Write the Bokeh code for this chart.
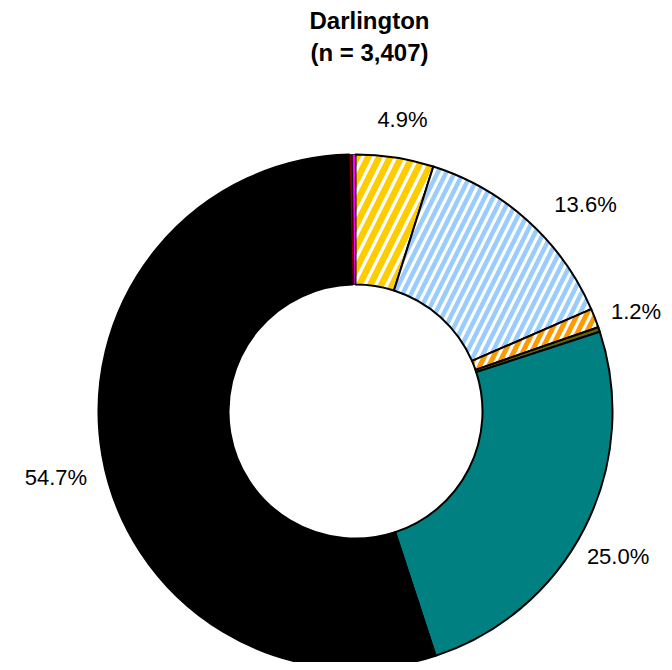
import numpy as np
from bokeh.plotting import figure
from bokeh.models import ColumnDataSource, Range1d
from bokeh.core.properties import value
from bokeh.embed import file_html
from bokeh.resources import INLINE

# ---- data (clockwise from 12 o'clock) ----
categories = ["Cat A", "Cat B", "Cat C", "Cat D", "Cat E", "Cat F", "Cat G", "Cat H"]
shares = [4.9, 13.6, 1.2, 0.3, 25.0, 54.7, 0.2, 0.2]
labels = ["4.9%", "13.6%", "1.2%", "", "25.0%", "54.7%", "", ""]
title_line1 = "Darlington"
title_line2 = "(n = 3,407)"

# ---- styles ----
colors = ["#FFCC00", "#99CCFF", "#FF9900", "#666600", "#008080", "#000000", "#800000", "#FF00FF"]
hatched = [True, True, True, False, False, False, False, False]
hatch_scales = [22, 17, 18, 10, 10, 10, 10, 10]
hatch_weights = [6.5, 4.5, 5.0, 1, 1, 1, 1, 1]
edge_widths = [2, 2, 2, 2, 2, 2, 0.8, 0.8]

W, H = 664, 662
cx, cy = 355, H - 411
r_out, r_in = 257, 127
r_lab = 300
# label nudges in px (layout only; +dy = down)
lab_dx = [1, 29, 1, 0, -5, -4, 0, 0]
lab_dy = [4, 16, 9, 0, 9, 15, 0, 0]

vals = np.array(shares, dtype=float)
frac = vals / vals.sum()
cum_end = np.cumsum(frac)
cum_start = cum_end - frac
start = np.pi / 2 - 2 * np.pi * cum_start
end = np.pi / 2 - 2 * np.pi * cum_end
mid = (start + end) / 2

p = figure(width=W, height=H, output_backend="svg", toolbar_location=None,
           x_range=Range1d(0, W), y_range=Range1d(0, H), min_border=0)
p.axis.visible = False
p.grid.visible = False
p.outline_line_color = None
p.background_fill_color = "white"

for i in range(len(vals)):
    kw = dict(x=[cx], y=[cy], inner_radius=r_in, outer_radius=r_out,
              start_angle=[start[i]], end_angle=[end[i]], direction="clock",
              line_color="black", line_width=edge_widths[i], line_join="round")
    if hatched[i]:
        p.annular_wedge(fill_color="white", hatch_pattern="/", hatch_color=colors[i],
                        hatch_scale=hatch_scales[i], hatch_weight=hatch_weights[i], **kw)
    else:
        p.annular_wedge(fill_color=colors[i], **kw)

lx = [cx + r_lab * np.cos(m) for m in mid]
ly = [cy + r_lab * np.sin(m) for m in mid]
src = ColumnDataSource(dict(x=lx, y=ly, t=labels, dx=lab_dx, dy=lab_dy))
p.text(x="x", y="y", text="t", x_offset="dx", y_offset="dy", source=src,
       text_align="center", text_baseline="middle",
       text_font=value("Liberation Sans"), text_font_size="22px", text_color="black")

p.text(x=[369], y=[H - 20], text=[title_line1], text_align="center",
       text_baseline="middle", text_font=value("Liberation Sans"),
       text_font_size="24px", text_font_style="bold", text_color="black")
p.text(x=[369], y=[H - 52], text=[title_line2], text_align="center",
       text_baseline="middle", text_font=value("Liberation Sans"),
       text_font_size="24px", text_font_style="bold", text_color="black")

open("out.html", "w").write(file_html(p, INLINE))
